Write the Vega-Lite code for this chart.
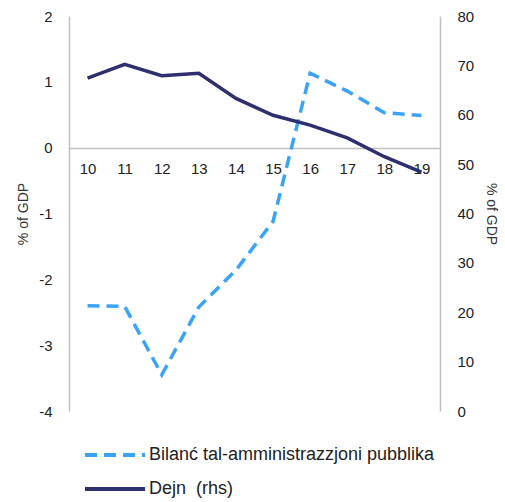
{
  "$schema": "https://vega.github.io/schema/vega-lite/v6.json",
  "width": 371,
  "height": 395,
  "autosize": {"type": "none"},
  "padding": {"left": 69, "top": 16, "right": 65, "bottom": 91},
  "data": {
    "values": [
      {"year": "10", "bal": -2.40, "debt": 67.4},
      {"year": "11", "bal": -2.41, "debt": 70.2},
      {"year": "12", "bal": -3.45, "debt": 67.9},
      {"year": "13", "bal": -2.42, "debt": 68.4},
      {"year": "14", "bal": -1.86, "debt": 63.3},
      {"year": "15", "bal": -1.12, "debt": 59.9},
      {"year": "16", "bal": 1.13, "debt": 57.9},
      {"year": "17", "bal": 0.86, "debt": 55.3},
      {"year": "18", "bal": 0.53, "debt": 51.5},
      {"year": "19", "bal": 0.49, "debt": 48.4}
    ]
  },
  "config": {
    "view": {"stroke": null},
    "font": "Liberation Sans",
    "axis": {
      "grid": false,
      "ticks": false,
      "labelFont": "Liberation Sans",
      "labelFontSize": 15,
      "labelColor": "#222222",
      "domainColor": "#c0c0c0",
      "domainWidth": 1.5,
      "titleFont": "Liberation Sans",
      "titleFontSize": 14,
      "titleFontWeight": "normal",
      "titleColor": "#333333"
    },
    "legend": {
      "labelFont": "Liberation Sans",
      "labelFontSize": 18,
      "labelColor": "#222222",
      "labelLimit": 400,
      "symbolType": "stroke",
      "symbolSize": 3600,
      "symbolStrokeWidth": 4,
      "labelOffset": 2
    }
  },
  "encoding": {
    "x": {
      "field": "year",
      "type": "ordinal",
      "sort": null,
      "scale": {"padding": 0.5},
      "axis": {"labelAngle": 0, "title": null, "offset": -263, "labelPadding": 13}
    }
  },
  "layer": [
    {
      "mark": {"type": "line", "strokeWidth": 3.5},
      "encoding": {
        "y": {
          "field": "bal",
          "type": "quantitative",
          "scale": {"domain": [-4, 2], "nice": false, "zero": false},
          "axis": {"orient": "left", "title": "% of GDP", "values": [-4, -3, -2, -1, 0, 1, 2], "labelExpr": "replace(datum.label, '\u2212', '-')", "labelPadding": 17, "titlePadding": 8}
        },
        "color": {
          "datum": "Bilanć tal-amministrazzjoni pubblika",
          "scale": {"range": ["#3aa3f5"]},
          "legend": {"title": null, "orient": "none", "legendX": 14, "legendY": 407}
        },
        "strokeDash": {
          "datum": "Bilanć tal-amministrazzjoni pubblika",
          "scale": {"range": [[12, 7]]},
          "legend": null
        }
      }
    },
    {
      "mark": {"type": "line", "strokeWidth": 3.5},
      "encoding": {
        "y": {
          "field": "debt",
          "type": "quantitative",
          "scale": {"domain": [0, 80], "nice": false},
          "axis": {"orient": "right", "title": "% of GDP", "values": [0, 10, 20, 30, 40, 50, 60, 70, 80], "labelPadding": 17, "titlePadding": 10}
        },
        "stroke": {
          "datum": "Dejn\u00a0 (rhs)",
          "scale": {"range": ["#2e2f6e"]},
          "legend": {"title": null, "orient": "none", "legendX": 14, "legendY": 441}
        }
      }
    }
  ],
  "resolve": {
    "scale": {"y": "independent", "color": "independent", "stroke": "independent", "strokeDash": "independent"},
    "legend": {"color": "independent", "stroke": "independent", "strokeDash": "independent"}
  }
}
